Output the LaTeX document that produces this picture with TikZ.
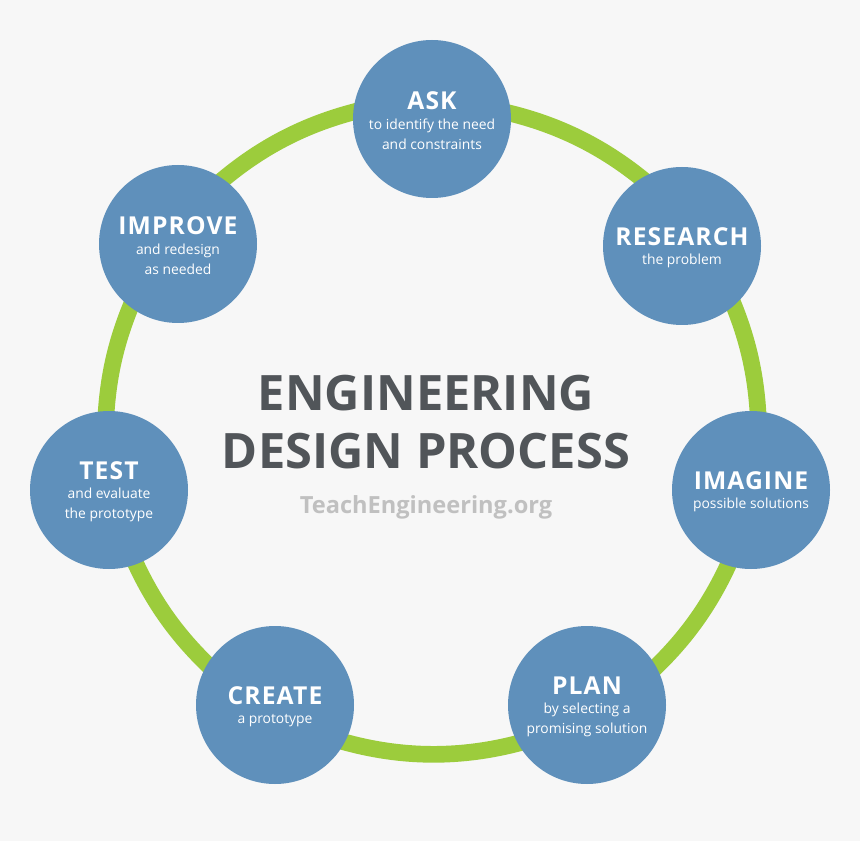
\documentclass[tikz,border=0pt]{standalone}
\usepackage{fontspec}
\usepackage{xcolor}
\usetikzlibrary{backgrounds}
\setmainfont{Open Sans}
\newfontfamily\headfont{Open Sans}[LetterSpace=4.5]
\definecolor{paper}{RGB}{247,247,247}
\definecolor{disc}{RGB}{95,144,187}
\definecolor{ring}{RGB}{156,204,60}
\definecolor{inktitle}{RGB}{81,85,89}
\definecolor{inkweb}{RGB}{192,192,192}
\newcommand{\stagehead}[1]{{\rule{0pt}{16pt}\headfont\fontsize{18.5}{18}\selectfont\bfseries #1}\\[-0.4pt]}
\tikzset{
  stage/.style={circle, fill=disc, minimum size=118.5pt, inner sep=0pt, text=white, align=center, font=\fontsize{10.4}{15}\selectfont},
  ringline/.style={draw=ring, line width=12.5pt, looseness=0.87, shorten <=-3pt, shorten >=-3pt},
}

\begin{document}
\begin{tikzpicture}[x=0.75pt, y=-0.75pt]
% Stages
\node[stage] (ask) at (432,119) {\stagehead{ASK}to identify the need\\and constraints};
\node[stage] (research) at (682,246) {\stagehead{RESEARCH}the problem};
\node[stage] (imagine) at (751,490) {\stagehead{IMAGINE}possible solutions};
\node[stage] (plan) at (587,705) {\stagehead{PLAN}by selecting a\\promising solution};
\node[stage] (create) at (275,705) {\stagehead{CREATE}a prototype};
\node[stage] (test) at (109,490) {\stagehead{TEST}and evaluate\\the prototype};
\node[stage] (improve) at (178,244) {\stagehead{IMPROVE}and redesign\\as needed};

% Title
\node[text=inktitle, align=center, font=\fontsize{36.6}{43.5}\selectfont\bfseries] (title) at (426,422) {ENGINEERING\\DESIGN PROCESS};
\node[text=inkweb, font=\fontsize{17.7}{22}\selectfont\bfseries] (web) at (426,507) {TeachEngineering.org};

\begin{scope}[on background layer]
\fill[paper] (0,0) rectangle (860,841);
% Ring
\draw[ringline] (ask.4.5) to[bend left=12.9] (research.121.7);
\draw[ringline] (research.-49.4) to[bend left=9.5] (imagine.85.6);
\draw[ringline] (imagine.-107.3) to[bend left=10.9] (plan.29.8);
\draw[ringline] (plan.-151) to[bend left=15.5] (create.-28.8);
\draw[ringline] (create.149.7) to[bend left=10.9] (test.-70.7);
\draw[ringline] (test.92.2) to[bend left=9.5] (improve.-127.9);
\draw[ringline] (improve.55.7) to[bend left=13] (ask.175.3);
\end{scope}
\end{tikzpicture}
\end{document}
